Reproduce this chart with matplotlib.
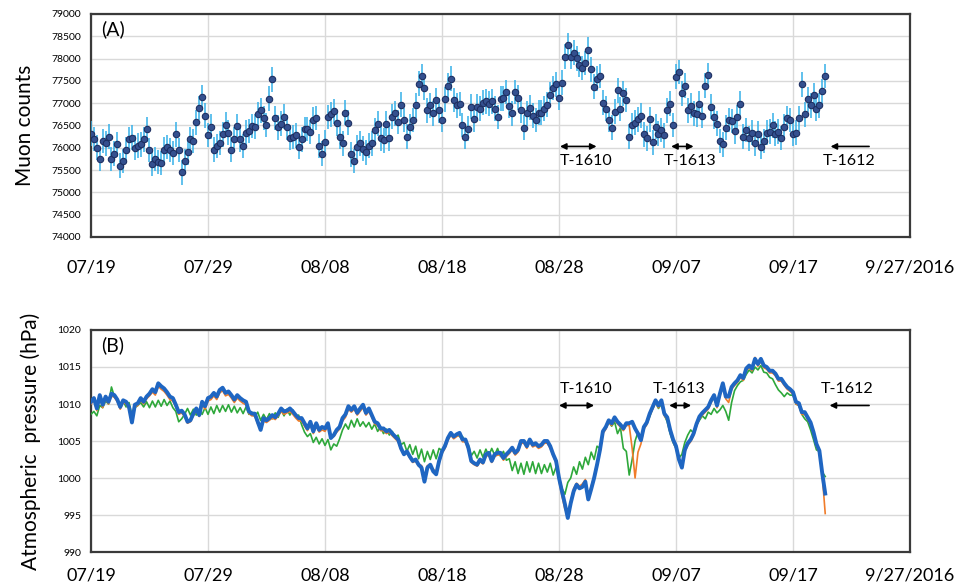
import numpy as np
import pandas as pd
import matplotlib
matplotlib.use("Agg")
import matplotlib.pyplot as plt

plt.rcParams['font.family'] = ['Lato', 'DejaVu Sans']

# muon counts, 6-hourly from 2016-07-19 00:00
muon_counts = [
    76320, 76200, 76000, 75750, 76150, 76100, 76250, 75750,
    75870, 76075, 75600, 75700, 75960, 76190, 76230, 76000,
    76050, 76075, 76190, 76410, 75950, 75640, 75750, 75680,
    75660, 75960, 76020, 75950, 75880, 76300, 75950, 75450,
    75700, 75900, 76200, 76150, 76570, 76890, 77140, 76720,
    76290, 76470, 75960, 76040, 76110, 76300, 76520, 76340,
    75960, 76190, 76490, 76190, 76040, 76340, 76380, 76490,
    76470, 76750, 76840, 76670, 76510, 77100, 77540, 76670,
    76460, 76540, 76700, 76460, 76230, 76240, 76280, 76020,
    76190, 76410, 76420, 76350, 76630, 76670, 76040, 75870,
    76130, 76690, 76750, 76820, 76550, 76250, 76100, 76790,
    76560, 75850, 75700, 76020, 76100, 75980, 75900, 76050,
    76100, 76400, 76540, 76210, 76170, 76540, 76210, 76700,
    76770, 76580, 76970, 76620, 76250, 76470, 76620, 76950,
    77440, 77610, 77340, 76840, 76950, 76770, 77070, 76840,
    76620, 77090, 77390, 77550, 77070, 76950, 76980, 76510,
    76250, 76430, 76920, 76640, 76920, 76880, 77010, 77040,
    76990, 77040, 76880, 76690, 77100, 77110, 77250, 76940,
    76770, 77250, 77120, 76840, 76450, 76770, 76900, 76720,
    76620, 76790, 76790, 76880, 76970, 77190, 77340, 77420,
    77120, 77460, 78040, 78300, 78040, 78130, 78010, 77860,
    77790, 77900, 78200, 77760, 77370, 77550, 77610, 77010,
    76880, 76620, 76450, 76810, 77290, 76870, 77220, 77070,
    76250, 76510, 76560, 76640, 76720, 76300, 76210, 76640,
    76120, 76470, 76320, 76400, 76280, 76840, 76990, 76510,
    77590, 77700, 77220, 77390, 76840, 76940, 76770, 76750,
    76990, 76720, 77390, 77630, 76920, 76690, 76540, 76150,
    76075, 76450, 76620, 76600, 76370, 76690, 76990, 76250,
    76400, 76210, 76340, 76100, 76320, 76020, 76150, 76340,
    76360, 76500, 76320, 76360, 76220, 76470, 76670, 76620,
    76320, 76340, 76660, 77420, 76750, 77090, 76950, 77180,
    76870, 76950, 77270, 77610,
]

# atmospheric pressure (hPa), 6-hourly, three stations
press_blue = [
    1010.3, 1010.8, 1009.4, 1011.2, 1009.9, 1011.0, 1010.3, 1011.4,
    1011.2, 1010.6, 1009.6, 1010.5, 1010.3, 1009.6, 1007.5, 1009.9,
    1010.1, 1010.8, 1010.3, 1011.0, 1011.4, 1012.0, 1011.6, 1012.8,
    1012.4, 1012.1, 1011.6, 1011.0, 1010.8, 1009.9, 1008.9, 1009.1,
    1008.6, 1007.6, 1007.8, 1008.7, 1009.4, 1008.5, 1010.3, 1009.7,
    1010.8, 1011.0, 1011.5, 1011.0, 1011.9, 1012.2, 1011.5, 1011.7,
    1011.2, 1010.6, 1011.2, 1010.8, 1010.5, 1010.3, 1009.0, 1008.7,
    1008.7, 1007.6, 1006.5, 1008.1, 1007.8, 1008.1, 1008.5, 1008.2,
    1008.7, 1009.4, 1009.0, 1009.1, 1009.4, 1009.0, 1008.5, 1008.1,
    1008.1, 1007.4, 1006.7, 1007.6, 1006.3, 1007.4, 1006.5, 1006.9,
    1006.7, 1007.4, 1005.4, 1005.8, 1006.5, 1006.9, 1008.1, 1008.6,
    1009.7, 1009.2, 1009.7, 1008.8, 1009.4, 1009.9, 1008.8, 1009.4,
    1008.5, 1007.6, 1007.4, 1006.7, 1006.7, 1006.3, 1006.5, 1006.0,
    1005.6, 1005.2, 1004.0, 1003.2, 1003.6, 1002.9, 1002.3, 1002.5,
    1001.8, 1001.4, 999.5, 1001.4, 1001.8, 1000.9, 1000.5, 1002.3,
    1003.6, 1004.3, 1005.4, 1006.1, 1005.6, 1005.9, 1006.1, 1005.2,
    1005.2, 1004.1, 1002.3, 1002.0, 1001.8, 1002.5, 1002.1, 1003.2,
    1003.4, 1002.3, 1003.2, 1003.4, 1003.4, 1002.7, 1003.2, 1003.6,
    1004.1, 1003.4, 1003.8, 1005.0, 1005.0, 1004.3, 1005.2, 1004.5,
    1004.7, 1004.3, 1004.5, 1005.0, 1005.0, 1004.3, 1003.2, 1002.3,
    1000.0, 998.2, 996.5, 994.6, 996.6, 998.2, 999.1, 998.6,
    998.8, 999.5, 997.1, 998.5, 1000.0, 1001.8, 1003.8, 1006.3,
    1006.9, 1007.8, 1007.4, 1008.2, 1007.6, 1007.2, 1006.7, 1007.4,
    1007.4, 1007.6, 1006.7, 1006.0, 1005.1, 1006.9, 1007.5, 1008.7,
    1009.6, 1010.5, 1009.8, 1010.5, 1008.7, 1008.2, 1006.5, 1005.2,
    1004.3, 1002.5, 1001.4, 1003.8, 1004.7, 1005.2, 1006.0, 1007.3,
    1008.3, 1008.8, 1009.2, 1009.6, 1010.5, 1011.2, 1009.8, 1011.4,
    1012.8, 1011.0, 1011.0, 1012.3, 1012.8, 1013.2, 1013.9, 1013.5,
    1014.8, 1015.2, 1014.8, 1016.1, 1015.4, 1016.1, 1015.2, 1015.0,
    1014.5, 1014.5, 1014.1, 1013.4, 1013.4, 1012.8, 1012.3, 1012.0,
    1011.6, 1010.3, 1010.1, 1008.9, 1008.9, 1008.2, 1007.5, 1006.2,
    1004.6, 1003.7, 1000.6, 997.9,
]

press_orange = [
    1010.0, 1010.5, 1009.1, 1010.9, 1009.5, 1010.7, 1010.0, 1011.1,
    1010.9, 1010.3, 1009.3, 1010.2, 1010.0, 1009.3, 1007.8, 1009.6,
    1009.8, 1010.5, 1010.0, 1010.7, 1011.1, 1011.6, 1011.2, 1012.4,
    1012.0, 1011.7, 1011.2, 1010.6, 1010.4, 1009.6, 1008.6, 1008.8,
    1008.3, 1007.4, 1007.6, 1008.4, 1009.1, 1008.3, 1009.9, 1009.3,
    1010.4, 1010.6, 1011.1, 1010.6, 1011.5, 1011.8, 1011.1, 1011.3,
    1010.8, 1010.2, 1010.8, 1010.4, 1010.1, 1009.9, 1008.7, 1008.4,
    1008.4, 1007.3, 1006.7, 1007.7, 1007.5, 1007.8, 1008.1, 1007.9,
    1008.4, 1009.0, 1008.6, 1008.8, 1009.0, 1008.6, 1008.1, 1007.7,
    1007.7, 1007.0, 1006.4, 1007.2, 1006.0, 1007.0, 1006.2, 1006.5,
    1006.3, 1007.0, 1005.6, 1005.6, 1006.2, 1006.6, 1007.7, 1008.2,
    1009.3, 1008.9, 1009.3, 1008.5, 1009.0, 1009.5, 1008.5, 1009.0,
    1008.2, 1007.3, 1007.1, 1006.4, 1006.4, 1006.0, 1006.2, 1005.7,
    1005.3, 1004.9, 1003.8, 1003.3, 1003.4, 1002.7, 1002.1, 1002.3,
    1001.6, 1001.7, 1000.0, 1001.7, 1001.5, 1001.2, 1000.8, 1002.0,
    1003.3, 1004.0, 1005.1, 1005.8, 1005.3, 1005.6, 1005.8, 1004.9,
    1004.9, 1003.8, 1002.1, 1001.8, 1001.6, 1002.2, 1001.9, 1002.9,
    1003.1, 1002.1, 1002.9, 1003.1, 1003.1, 1002.4, 1002.9, 1003.3,
    1003.8, 1003.1, 1003.5, 1004.7, 1004.7, 1004.0, 1004.9, 1004.2,
    1004.4, 1004.0, 1004.2, 1004.7, 1004.7, 1004.0, 1003.0, 1002.0,
    999.6, 997.6, 995.8, 995.0, 996.9, 998.6, 999.3, 998.9,
    999.2, 999.8, 997.6, 998.9, 1000.3, 1002.1, 1003.5, 1006.0,
    1006.6, 1007.5, 1007.1, 1007.9, 1007.3, 1006.9, 1006.4, 1007.1,
    1007.1, 1004.0, 1000.0, 1003.5, 1004.6, 1006.6, 1007.2, 1008.4,
    1009.3, 1010.2, 1009.5, 1010.2, 1008.4, 1007.9, 1006.2, 1004.9,
    1004.0, 1002.3, 1001.6, 1003.5, 1004.4, 1004.9, 1005.7, 1007.0,
    1008.0, 1008.5, 1008.9, 1009.3, 1010.2, 1010.9, 1009.5, 1011.1,
    1012.5, 1010.7, 1010.2, 1012.0, 1012.5, 1012.9, 1013.6, 1013.2,
    1014.5, 1014.9, 1014.5, 1016.3, 1015.1, 1015.8, 1014.9, 1014.7,
    1014.2, 1014.2, 1013.8, 1013.1, 1013.1, 1012.5, 1012.0, 1011.7,
    1011.3, 1010.0, 1009.8, 1008.6, 1008.6, 1007.9, 1007.2, 1005.9,
    1004.3, 1003.4, 1000.3, 995.2,
]

press_green = [
    1008.6, 1009.0, 1008.4, 1009.8, 1009.5, 1010.4, 1010.0, 1012.3,
    1011.0, 1010.5, 1009.8, 1010.4, 1009.6, 1010.2, 1008.5, 1009.5,
    1009.8, 1010.2, 1009.6, 1010.3, 1009.5, 1010.4, 1009.6, 1010.5,
    1009.7, 1010.6, 1009.8, 1010.4, 1009.5, 1009.0, 1007.6, 1008.0,
    1008.6, 1009.4, 1008.5, 1009.3, 1008.5, 1009.2, 1008.6, 1009.5,
    1008.6, 1009.6, 1008.7, 1009.8, 1008.9, 1009.8, 1009.0, 1009.9,
    1008.9, 1009.7, 1008.8, 1009.5, 1008.7, 1009.6, 1008.6, 1008.9,
    1008.3, 1008.9, 1007.8, 1008.6, 1007.9, 1008.7, 1008.0, 1008.8,
    1008.2, 1009.2, 1008.4, 1009.3, 1008.5, 1009.2, 1008.3, 1008.5,
    1007.2, 1006.2, 1005.6, 1006.0, 1004.8, 1005.5, 1004.6, 1005.3,
    1004.4, 1005.2, 1003.8, 1004.6, 1004.3, 1005.3, 1006.5, 1007.3,
    1006.6, 1007.8, 1006.9, 1008.0, 1007.0, 1007.6, 1006.9, 1007.5,
    1006.6, 1007.3, 1006.3, 1006.9, 1006.0, 1006.6, 1005.8, 1006.3,
    1005.5, 1005.8, 1004.5, 1004.8, 1003.6, 1004.5, 1003.2, 1004.3,
    1002.6, 1003.9, 1002.2, 1003.6, 1002.5, 1003.8, 1002.6, 1004.0,
    1003.7, 1004.6, 1005.2, 1005.9, 1005.4, 1006.0, 1005.6, 1005.6,
    1004.8, 1004.5, 1003.0, 1003.6, 1002.7, 1003.8, 1002.8, 1003.9,
    1003.0, 1004.0, 1003.1, 1004.0, 1002.9, 1003.6, 1002.4, 1002.6,
    1001.0, 1002.2, 1000.6, 1002.0, 1000.5, 1002.2, 1000.8, 1002.2,
    1000.6, 1002.0, 1000.6, 1001.8, 1000.8, 1002.0, 1000.4, 1001.5,
    1000.2, 998.6, 997.8, 999.4, 1000.0, 1001.5, 1000.5, 1002.2,
    1001.2, 1002.8, 1001.8, 1003.5, 1002.5, 1004.3, 1004.0, 1006.3,
    1006.8, 1007.6, 1007.0, 1007.6, 1006.0, 1006.8, 1004.0, 1003.6,
    1000.4, 1002.5, 1005.0, 1006.2, 1005.4, 1006.7, 1007.4, 1008.3,
    1009.4, 1010.2, 1009.4, 1010.0, 1008.5, 1007.6, 1006.0, 1004.8,
    1004.0, 1002.7, 1003.2, 1004.8, 1005.8, 1006.5, 1006.1, 1007.2,
    1007.8, 1008.4, 1008.0, 1008.9, 1008.6, 1009.4, 1008.8, 1009.2,
    1009.8, 1009.0, 1007.8, 1010.2, 1011.8, 1012.5, 1013.0, 1013.2,
    1014.0, 1014.6, 1014.2, 1015.0, 1014.6, 1015.2, 1014.3, 1014.2,
    1013.6, 1013.4, 1012.6, 1011.9, 1011.5, 1011.0, 1011.5, 1011.2,
    1011.2, 1010.0, 1009.8, 1008.6, 1008.0, 1007.6, 1006.5, 1005.2,
    1003.8, 1003.6, 1000.8, 1000.2,
]

tick_dates = ['2016-07-19', '2016-07-29', '2016-08-08', '2016-08-18',
              '2016-08-28', '2016-09-07', '2016-09-17', '2016-09-27']
tick_labels = ['07/19', '07/29', '08/08', '08/18', '08/28', '09/07', '09/17', '9/27/2016']

# (label, arrow start, arrow end, arrow style, text x) for each run
runs_a = [
    ('T-1610', '2016-08-28 02:00', '2016-08-31 05:00', '<|-|>', '2016-08-30 07:00'),
    ('T-1613', '2016-09-06 14:00', '2016-09-08 12:00', '<|-|>', '2016-09-08 05:00'),
    ('T-1612', '2016-09-23 12:00', '2016-09-20 05:00', '-|>', '2016-09-21 19:00'),
]
runs_b = [
    ('T-1610', '2016-08-28 00:00', '2016-08-31 00:00', '<|-|>', '2016-08-30 07:00'),
    ('T-1613', '2016-09-06 10:00', '2016-09-08 07:00', '<|-|>', '2016-09-07 07:00'),
    ('T-1612', '2016-09-23 12:00', '2016-09-20 03:00', '-|>', '2016-09-21 14:00'),
]

t_muon = pd.date_range('2016-07-19', periods=len(muon_counts), freq='6h')
t_press = pd.date_range('2016-07-19', periods=len(press_blue), freq='6h')
ticks = pd.to_datetime(tick_dates)

fig = plt.figure(figsize=(9.73, 5.85), dpi=100)
ax1 = fig.add_axes([0.0935, 0.5949, 0.8418, 0.3812])
ax2 = fig.add_axes([0.0935, 0.0564, 0.8418, 0.3795])

for ax in (ax1, ax2):
    ax.set_xlim(ticks[0], ticks[-1])
    ax.set_xticks(ticks)
    ax.set_xticklabels(tick_labels, fontsize=13)
    ax.grid(True, color='#d9d9d9', lw=1.0)
    ax.set_axisbelow(True)
    ax.tick_params(length=0, labelsize=7.5, axis='y', pad=7)
    for s in ax.spines.values():
        s.set_color('#3a3a3a')
        s.set_linewidth(1.6)

ax1.tick_params(axis='x', length=0, pad=16)
ax2.tick_params(axis='x', length=0, pad=11)

# (A) muon counts with statistical errors
mu = np.array(muon_counts)
ax1.errorbar(t_muon, mu, yerr=np.sqrt(mu), fmt='o', ms=4.6,
             mfc='#34508f', mec='#1d2f62', mew=0.8,
             ecolor='#35b0e8', elinewidth=1.1, capsize=0, zorder=3)
ax1.set_ylim(74000, 79000)
ax1.set_yticks(np.arange(74000, 79001, 500))
ax1.set_ylabel('Muon counts', fontsize=15, labelpad=12)
ax1.text(0.012, 0.93, '(A)', transform=ax1.transAxes, fontsize=14, va='center')

for name, x0, x1, style, xt in runs_a:
    ax1.annotate('', xy=(pd.Timestamp(x1), 76030), xytext=(pd.Timestamp(x0), 76030),
                 arrowprops=dict(arrowstyle=style, color='black', lw=1.2,
                                 mutation_scale=9, shrinkA=0, shrinkB=0))
    ax1.text(pd.Timestamp(xt), 75700, name, ha='center', va='center', fontsize=11.5)

# (B) atmospheric pressure
ax2.plot(t_press, press_green, color='#2ea83a', lw=1.2, zorder=3)
ax2.plot(t_press, press_orange, color='#f07c2a', lw=1.2, zorder=4)
ax2.plot(t_press, press_blue, color='#1f66c2', lw=2.8, zorder=5)
ax2.set_ylim(990, 1020)
ax2.set_yticks(np.arange(990, 1021, 5))
ax2.set_ylabel('Atmospheric  pressure (hPa)', fontsize=15, labelpad=12)
ax2.text(0.012, 0.93, '(B)', transform=ax2.transAxes, fontsize=14, va='center')

for name, x0, x1, style, xt in runs_b:
    ax2.annotate('', xy=(pd.Timestamp(x1), 1009.8), xytext=(pd.Timestamp(x0), 1009.8),
                 arrowprops=dict(arrowstyle=style, color='black', lw=1.2,
                                 mutation_scale=9, shrinkA=0, shrinkB=0))
    ax2.text(pd.Timestamp(xt), 1012.0, name, ha='center', va='center', fontsize=11.5)

fig.savefig('out.png', dpi=100)
